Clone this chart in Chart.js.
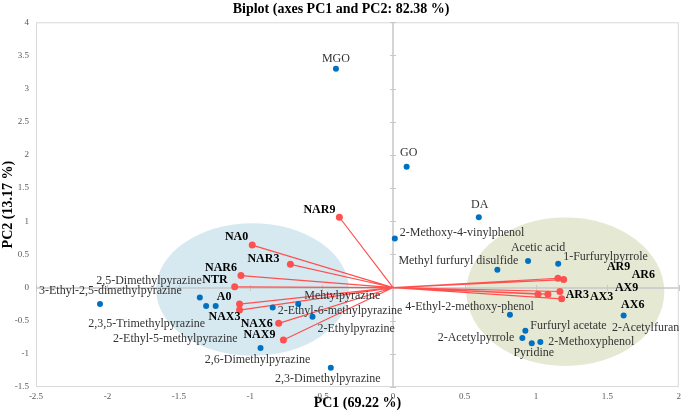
<!DOCTYPE html>
<html>
<head>
<meta charset="utf-8">
<script src="https://cdn.jsdelivr.net/npm/chart.js@4.4.1/dist/chart.umd.min.js"></script>
<style>
  body { margin: 0; background: #fff; }
  #wrap { width: 685px; height: 419px; }
</style>
</head>
<body>
<div id="wrap"><canvas id="chart"></canvas></div>
<script>
// variables (blue)
var varNames = ['MGO', 'GO', 'DA', '2-Methoxy-4-vinylphenol', 'Methyl furfuryl disulfide', 'Acetic acid',
  '1-Furfurylpyrrole', '4-Ethyl-2-methoxy-phenol', '2-Acetylfuran', 'Furfuryl acetate', '2-Acetylpyrrole',
  'Pyridine', '2-Methoxyphenol', '3-Ethyl-2,5-dimethylpyrazine', '2,5-Dimethylpyrazine',
  '2,3,5-Trimethylpyrazine', '2-Ethyl-5-methylpyrazine', '2-Ethyl-6-methylpyrazine', 'Mehtylpyrazine',
  '2-Ethylpyrazine', '2,6-Dimethylpyrazine', '2,3-Dimethylpyrazine'];
var varPC1 = [-0.40, 0.095, 0.60, 0.012, 0.73, 0.945, 1.156, 0.818, 1.614, 0.926, 0.905,
  0.971, 1.031, -2.052, -1.353, -1.309, -1.242, -0.843, -0.664, -0.564, -0.928, -0.436];
var varPC2 = [3.30, 1.82, 1.06, 0.74, 0.27, 0.40, 0.36, -0.41, -0.42, -0.65, -0.76,
  -0.84, -0.82, -0.25, -0.15, -0.28, -0.28, -0.30, -0.25, -0.44, -0.91, -1.21];

// observations (red vectors)
var obsNames = ['NAR9', 'NA0', 'NAR3', 'NAR6', 'NTR', 'A0', 'NAX3', 'NAX6', 'NAX9',
  'AR9', 'AR6', 'AX9', 'AR3', 'AX3', 'AX6'];
var obsPC1 = [-0.376, -0.986, -0.719, -1.065, -1.109, -1.075, -1.075, -0.801, -0.768,
  1.154, 1.194, 1.168, 1.180, 1.084, 1.015];
var obsPC2 = [1.06, 0.64, 0.35, 0.18, 0.01, -0.25, -0.34, -0.54, -0.79,
  0.14, 0.12, -0.06, -0.17, -0.10, -0.10];

// group ellipses
var ellCX = [-0.984, 1.206];
var ellCY = [-0.03, -0.063];
var ellRX = [0.675, 0.693];
var ellRY = [1.00, 1.12];
var ellColors = ['#d6e9f1', '#e5e9d4'];

var xTicks = [-2.5, -2, -1.5, -1, -0.5, 0, 0.5, 1, 1.5, 2];
var yTicks = [-1.5, -1, -0.5, 0, 0.5, 1, 1.5, 2, 2.5, 3, 3.5, 4];

var serif = "'Liberation Serif', 'Times New Roman', serif";

// label placement: [dx, dy, align]
var labelPos = {
  'MGO': [0, -10, 'center'], 'GO': [2, -14, 'center'], 'DA': [1, -12, 'center'],
  '2-Methoxy-4-vinylphenol': [5, -6, 'left'], 'Methyl furfuryl disulfide': [21, -9, 'right'],
  'Acetic acid': [10, -13, 'center'], '1-Furfurylpyrrole': [5, -7, 'left'],
  '4-Ethyl-2-methoxy-phenol': [24, -8, 'right'], '2-Acetylfuran': [22, 12, 'center'],
  'Furfuryl acetate': [5, -5, 'left'], '2-Acetylpyrrole': [-8, 0, 'right'],
  'Pyridine': [2, 10, 'center'], '2-Methoxyphenol': [8, 0, 'left'],
  '3-Ethyl-2,5-dimethylpyrazine': [-61, -13, 'left'], '2,5-Dimethylpyrazine': [2, -17, 'right'],
  '2,3,5-Trimethylpyrazine': [-1, 18, 'right'], '2-Ethyl-5-methylpyrazine': [22, 33, 'right'],
  '2-Ethyl-6-methylpyrazine': [5, 3, 'left'], 'Mehtylpyrazine': [6, -8, 'left'],
  '2-Ethylpyrazine': [5, 12, 'left'], '2,6-Dimethylpyrazine': [-3, 12, 'center'],
  '2,3-Dimethylpyrazine': [-3, 11, 'center'],
  'NAR9': [-4, -7, 'right'], 'NA0': [-4, -8, 'right'], 'NAR3': [-11, -5, 'right'],
  'NAR6': [-4, -8, 'right'], 'NTR': [-7, -7, 'right'], 'A0': [-8, -7, 'right'],
  'NAX3': [1, 7, 'right'], 'NAX6': [-6, 1, 'right'], 'NAX9': [-8, -5, 'right'],
  'AR9': [49, -11, 'left'], 'AR6': [68, -5, 'left'], 'AX9': [55, -4, 'left'],
  'AR3': [4, -4, 'left'], 'AX3': [42, 3, 'left'], 'AX6': [83, 11, 'left']
};

var backdrop = {
  id: 'backdrop',
  beforeDatasetsDraw: function(chart) {
    var c = chart.ctx, a = chart.chartArea, sx = chart.scales.x, sy = chart.scales.y;
    c.save();
    c.beginPath();
    c.rect(a.left, a.top, a.right - a.left, a.bottom - a.top);
    c.clip();
    for (var i = 0; i < ellCX.length; i++) {
      var cx = sx.getPixelForValue(ellCX[i]), cy = sy.getPixelForValue(ellCY[i]);
      var rx = Math.abs(sx.getPixelForValue(ellCX[i] + ellRX[i]) - cx);
      var ry = Math.abs(sy.getPixelForValue(ellCY[i] + ellRY[i]) - cy);
      c.beginPath();
      c.ellipse(cx, cy, rx, ry, 0, 0, Math.PI * 2);
      c.fillStyle = ellColors[i];
      c.fill();
    }
    c.restore();
    // frame
    c.save();
    c.strokeStyle = '#d9d9d9';
    c.lineWidth = 1;
    c.strokeRect(a.left + 0.5, a.top + 0.5, a.right - a.left - 1, a.bottom - a.top - 1);
    // zero lines with small ticks
    var x0 = Math.round(sx.getPixelForValue(0)), y0 = Math.round(sy.getPixelForValue(0));
    c.strokeStyle = '#c8c8c8';
    c.lineWidth = 1.5;
    c.beginPath();
    c.moveTo(x0, a.top); c.lineTo(x0, a.bottom);
    c.moveTo(a.left, y0); c.lineTo(a.right, y0);
    c.stroke();
    c.lineWidth = 1;
    c.beginPath();
    yTicks.forEach(function(v) {
      var p = Math.round(sy.getPixelForValue(v)) + 0.5;
      c.moveTo(x0 - 3, p); c.lineTo(x0 + 3, p);
    });
    xTicks.forEach(function(v) {
      var p = Math.round(sx.getPixelForValue(v)) + 0.5;
      c.moveTo(p, y0 - 3); c.lineTo(p, y0 + 3);
    });
    c.stroke();
    c.restore();
  },
  afterDatasetsDraw: function(chart) {
    var c = chart.ctx;
    c.save();
    c.textBaseline = 'middle';
    chart.data.datasets.forEach(function(ds, di) {
      if (!ds.names) return;
      var meta = chart.getDatasetMeta(di);
      c.font = ds.labelFont;
      c.fillStyle = ds.labelColor;
      ds.names.forEach(function(n, i) {
        var el = meta.data[i], p = labelPos[n] || [0, -10, 'center'];
        c.textAlign = p[2];
        c.fillText(n, el.x + p[0], el.y + p[1]);
      });
    });
    c.restore();
  }
};

var vectorData = [];
obsPC1.forEach(function(x, i) {
  vectorData.push({x: 0, y: 0});
  vectorData.push({x: x, y: obsPC2[i]});
});

new Chart(document.getElementById('chart'), {
  type: 'scatter',
  data: {
    datasets: [{
      label: 'Observations',
      names: obsNames,
      labelFont: 'bold 12px ' + serif,
      labelColor: '#000',
      data: obsPC1.map(function(x, i) { return {x: x, y: obsPC2[i]}; }),
      backgroundColor: '#ff5050',
      borderWidth: 0,
      pointRadius: 3.5
    }, {
      label: 'Variables',
      names: varNames,
      labelFont: '12px ' + serif,
      labelColor: '#333',
      data: varPC1.map(function(x, i) { return {x: x, y: varPC2[i]}; }),
      backgroundColor: '#0070c0',
      borderWidth: 0,
      pointRadius: 3
    }, {
      label: 'Vectors',
      data: vectorData,
      showLine: true,
      borderColor: '#ff5050',
      borderWidth: 1.2,
      pointRadius: 0
    }]
  },
  options: {
    responsive: true,
    maintainAspectRatio: false,
    animation: false,
    layout: { padding: { left: 0, right: 3, top: 0, bottom: 0 } },
    plugins: {
      legend: { display: false },
      tooltip: { enabled: false },
      title: {
        display: true,
        text: 'Biplot (axes PC1 and PC2: 82.38 %)',
        color: '#000',
        font: { family: serif, size: 14, weight: 'bold' },
        padding: { top: 1, bottom: 4.5 }
      }
    },
    scales: {
      x: {
        type: 'linear',
        min: -2.5, max: 2,
        afterBuildTicks: function(s) { s.ticks = xTicks.map(function(v) { return {value: v}; }); },
        afterFit: function(s) { s.height = 32; },
        grid: { display: false, drawTicks: false },
        border: { display: false },
        ticks: { color: '#595959', font: { family: serif, size: 9 }, padding: 4,
          callback: function(v) { return String(v); } },
        title: { display: true, text: 'PC1 (69.22 %)', color: '#000',
          font: { family: serif, size: 14, weight: 'bold' }, padding: { top: 0, bottom: 7 } }
      },
      y: {
        type: 'linear',
        min: -1.5, max: 4,
        afterBuildTicks: function(s) { s.ticks = yTicks.map(function(v) { return {value: v}; }); },
        afterFit: function(s) { s.width = 36; },
        grid: { display: false, drawTicks: false },
        border: { display: false },
        ticks: { color: '#595959', font: { family: serif, size: 9 }, padding: 7,
          callback: function(v) { return String(v); } },
        title: { display: true, text: 'PC2 (13.17 %)', color: '#000',
          font: { family: serif, size: 14, weight: 'bold' }, padding: { top: 0, bottom: 0 } }
      }
    }
  },
  plugins: [backdrop]
});
</script>
</body>
</html>
